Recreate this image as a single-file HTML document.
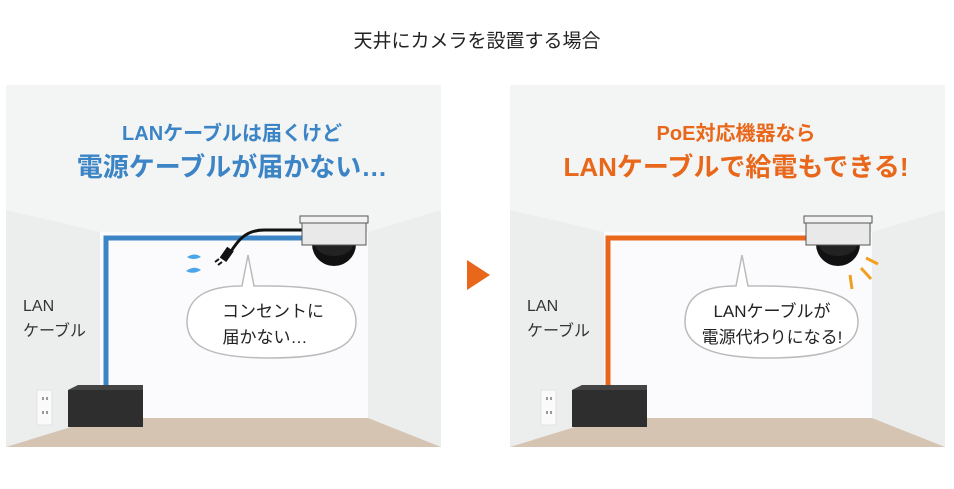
<!DOCTYPE html>
<html><head><meta charset="utf-8"><style>
body{margin:0;background:#fff;width:954px;height:484px;overflow:hidden;font-family:"Liberation Sans","Noto Sans CJK JP",sans-serif}
svg text{font-family:"Liberation Sans","Noto Sans CJK JP",sans-serif}
</style></head><body>
<svg width="954" height="484" viewBox="0 0 954 484" xmlns="http://www.w3.org/2000/svg">
<text x="477" y="47" text-anchor="middle" font-size="19" fill="#222">天井にカメラを設置する場合</text>
<defs>
<g id="room">
  <rect x="0" y="0" width="435" height="362" fill="#f3f4f4"/>
  <polygon points="0,125 94,147 94,333 0,362" fill="#eceeee"/>
  <polygon points="435,125 362,147 362,333 435,362" fill="#eceeee"/>
  <rect x="94" y="147" width="268" height="186" fill="#fbfbfd"/>
  <polygon points="94,333 362,333 435,362 0,362" fill="#d6c4b2"/>
  <rect x="31" y="305" width="15" height="35" fill="#fafafa" stroke="#e2e2e2"/>
  <rect x="36" y="312" width="2" height="3" fill="#999"/><rect x="40" y="312" width="2" height="3" fill="#999"/>
  <rect x="36" y="326" width="2" height="3" fill="#999"/><rect x="40" y="326" width="2" height="3" fill="#999"/>
  <text x="17" y="226" font-size="16" fill="#333">LAN</text>
  <text x="17" y="251" font-size="16" fill="#333">ケーブル</text>
</g>
<g id="cam">
  <path d="M-32,0 h66" stroke="none"/>
  <circle cx="0" cy="28" r="22" fill="#111"/>
  <path d="M-19,28 a19,12 0 0 0 38,0" fill="#333" opacity="0.5"/>
  <rect x="-32" y="6" width="64" height="23" fill="#e9e9e9" stroke="#555" stroke-width="1"/>
  <rect x="-34" y="0" width="68" height="7" fill="#f2f2f2" stroke="#555" stroke-width="1"/>
</g>
</defs>
<g transform="translate(6,85)">
  <use href="#room"/>
  <text x="226" y="55" text-anchor="middle" font-size="20" font-weight="bold" fill="#3b84c6">LANケーブルは届くけど</text>
  <text x="226" y="91" text-anchor="middle" font-size="26" font-weight="bold" fill="#3b84c6">電源ケーブルが届かない…</text>
  <path d="M100,305 V153 H300" fill="none" stroke="#3b84c6" stroke-width="5"/>
  <path d="M297,145 H258 C240,145 232,155 224,168" fill="none" stroke="#111" stroke-width="3"/>
  <rect x="217" y="163" width="8" height="13" fill="#111" transform="rotate(35 221 169)"/>
  <path d="M213,174 l-4,3 M216,177 l-4,3" stroke="#111" stroke-width="2"/>
  <path d="M181,172 q8,-5 14,0 q-8,4 -14,0z M180,186 q8,-6 15,-1 q-8,5 -15,1z" fill="#4aa6e8"/>
  <use href="#cam" transform="translate(328,131)"/>
  <path d="M236,201 C200,201 181,213 181,237 C181,262 205,273 264,273 C325,273 350,262 350,237 C350,213 330,201 260,201 L248,201 L242,170 L236,201Z" fill="#fff" stroke="#bbb" stroke-width="1.5"/>
  <text x="267" y="232" text-anchor="middle" font-size="17" fill="#222">コンセントに</text>
  <text x="259" y="258" text-anchor="middle" font-size="17" fill="#222">届かない…</text>
  <polygon points="62,305 137,305 137,342 62,342" fill="#2e2e2e"/>
  <polygon points="62,305 72,300 137,300 137,305" fill="#444"/>
</g>
<polygon points="467,260 490,275 467,290" fill="#e8671a"/>
<g transform="translate(510,85)">
  <use href="#room"/>
  <text x="226" y="55" text-anchor="middle" font-size="20" font-weight="bold" fill="#e8671a">PoE対応機器なら</text>
  <text x="226" y="91" text-anchor="middle" font-size="26" font-weight="bold" fill="#e8671a">LANケーブルで給電もできる!</text>
  <path d="M98,305 V153 H300" fill="none" stroke="#e8671a" stroke-width="5"/>
  <use href="#cam" transform="translate(328,131)"/>
  <path d="M356,173 l12,6 M351,183 l10,11 M340,190 l2,14" stroke="#f0a020" stroke-width="3"/>
  <path d="M225,201 C190,201 175,213 175,237 C175,262 205,273 258,273 C320,273 348,262 348,237 C348,213 325,201 250,201 L238,201 L232,170 L226,201Z" fill="#fff" stroke="#bbb" stroke-width="1.5"/>
  <text x="262" y="232" text-anchor="middle" font-size="17" fill="#222">LANケーブルが</text>
  <text x="262" y="258" text-anchor="middle" font-size="17" fill="#222">電源代わりになる!</text>
  <polygon points="62,305 137,305 137,342 62,342" fill="#2e2e2e"/>
  <polygon points="62,305 72,300 137,300 137,305" fill="#444"/>
</g>
</svg>
</body></html>
